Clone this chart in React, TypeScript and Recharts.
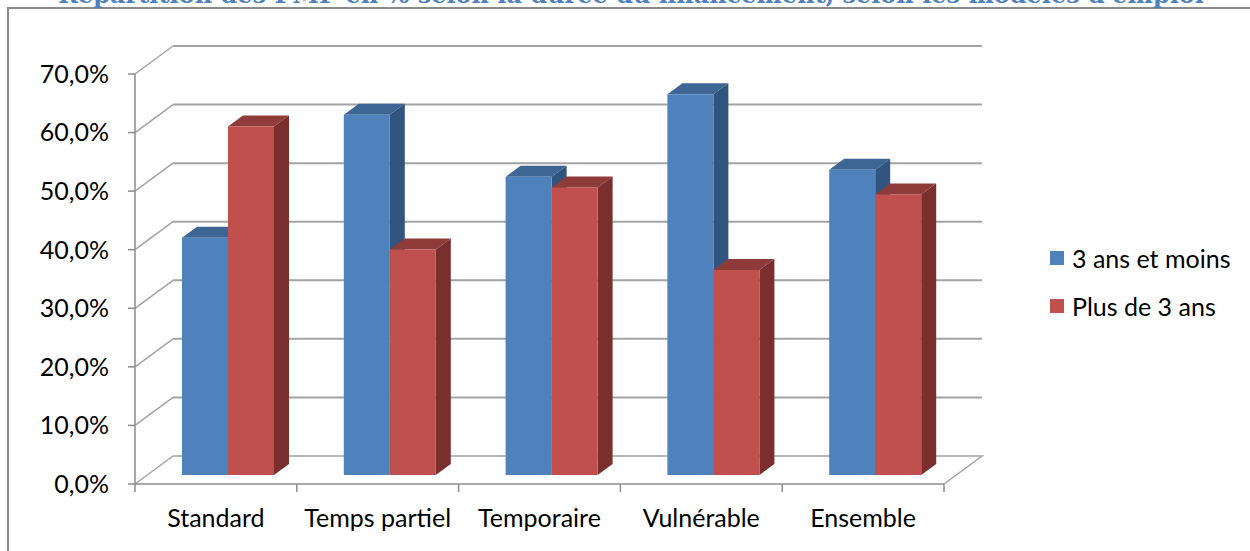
import { BarChart, Bar, XAxis, YAxis, CartesianGrid, Legend } from 'recharts';

const categories = ['Standard', 'Temps partiel', 'Temporaire', 'Vulnérable', 'Ensemble'];
const troisAnsEtMoins = [40.5, 61.5, 50.9, 65.0, 52.1];
const plusDeTroisAns = [59.5, 38.5, 49.1, 35.0, 47.9];
const seriesNames = ['3 ans et moins', 'Plus de 3 ans'];
const yTicks = [0, 10, 20, 30, 40, 50, 60, 70];

const TITLE = "Répartition des PMP en % selon la durée du financement, selon les modèles d'emploi";

const data = categories.map((name, i) => ({
  name,
  court: troisAnsEtMoins[i],
  long: plusDeTroisAns[i],
}));

// layout
const W = 1250;
const H = 551;
const MARGIN = { top: 74, right: 306, bottom: 27, left: 35 };
const Y_AXIS_W = 100;
const X_AXIS_H = 40;
const PLOT_BOTTOM = H - MARGIN.bottom - X_AXIS_H;
const X_TEXT_GAP = 43;

// fake 3D: back wall offset, bar plane offset, bar depth
const WALL_DX = 38;
const WALL_DY = 28;
const BAR_SHIFT_X = 12;
const BAR_SHIFT_Y = 9;
const BAR_DX = 15;
const BAR_DY = 11;

const FONT = 'Lato, "Open Sans", sans-serif';
const FONT_SIZE = 25;
const GRID = '#a3a3a3';
const AXIS = '#8c8c8c';

const fmtPct = (v: number) => `${v.toFixed(1).replace('.', ',')}%`;

const renderGridLine = (props: any) => {
  const { x1, y1, x2, index } = props;
  const isFloor = Math.abs(y1 - PLOT_BOTTOM) < 1;
  const bx = x1 + WALL_DX;
  const by = y1 - WALL_DY;
  return (
    <g key={`grid-${index}`}>
      <path d={`M${x1},${y1}L${bx},${by}`} stroke={GRID} strokeWidth={1.5} fill="none" />
      <path
        d={`M${bx},${by}H${x2 + WALL_DX}${isFloor ? `L${x2},${y1}` : ''}`}
        stroke={GRID}
        strokeWidth={isFloor ? 1.5 : 2}
        fill="none"
      />
    </g>
  );
};

const make3DBar = (front: string, top: string, side: string) => (props: any) => {
  const { x, y, width, height } = props;
  if (!width || height == null) return <g />;
  const fx = x + BAR_SHIFT_X;
  const fy = y - BAR_SHIFT_Y;
  const r = fx + width;
  const b = fy + height;
  return (
    <g>
      <polygon
        points={`${fx},${fy} ${r},${fy} ${r + BAR_DX},${fy - BAR_DY} ${fx + BAR_DX},${fy - BAR_DY}`}
        fill={top}
      />
      <polygon
        points={`${r},${fy} ${r + BAR_DX},${fy - BAR_DY} ${r + BAR_DX},${b - BAR_DY} ${r},${b}`}
        fill={side}
      />
      <rect x={fx} y={fy} width={width} height={height} fill={front} />
    </g>
  );
};

const XTick = (props: any) => {
  const { x, y, payload } = props;
  const axisY = y - X_TEXT_GAP;
  const half = payload.offset || 0;
  const last = payload.index === categories.length - 1;
  return (
    <g>
      <line x1={x - half} y1={axisY} x2={x - half} y2={axisY + 8} stroke={AXIS} strokeWidth={1.5} />
      {last && (
        <line x1={x + half} y1={axisY} x2={x + half} y2={axisY + 8} stroke={AXIS} strokeWidth={1.5} />
      )}
      <text x={x} y={y} textAnchor="middle" fill="#000" fontFamily={FONT} fontSize={FONT_SIZE}>
        {payload.value}
      </text>
    </g>
  );
};

const renderLegend = (props: any) => (
  <div style={{ fontFamily: FONT, fontSize: FONT_SIZE, color: '#000' }}>
    {(props.payload || []).map((entry: any, i: number) => (
      <div key={i} style={{ display: 'flex', alignItems: 'center', height: 48 }}>
        <span style={{ width: 14, height: 14, background: entry.color, marginRight: 8, display: 'inline-block' }} />
        <span>{entry.value}</span>
      </div>
    ))}
  </div>
);

export default function App() {
  return (
    <div
      style={{
        position: 'absolute',
        left: 0,
        top: 0,
        width: W,
        height: H,
        overflow: 'hidden',
        background: '#fff',
      }}
    >
      <div
        style={{
          position: 'absolute',
          left: 7,
          top: 7,
          width: W + 50,
          height: H + 50,
          border: '2px solid #8a8a8a',
        }}
      />
      <svg width={W} height={20} style={{ position: 'absolute', left: 0, top: 0 }}>
        <text
          x={631}
          y={3}
          textAnchor="middle"
          fill="#4F81BD"
          fontFamily='"DejaVu Serif", serif'
          fontWeight="bold"
          fontSize={24}
        >
          {TITLE}
        </text>
      </svg>
      <div style={{ position: 'absolute', left: 0, top: 0 }}>
        <BarChart width={W} height={H} data={data} margin={MARGIN} barCategoryGap={35} barGap={0}>
          <CartesianGrid horizontal={renderGridLine} vertical={false} />
          <XAxis
            dataKey="name"
            height={X_AXIS_H}
            axisLine={{ stroke: AXIS, strokeWidth: 1.5 }}
            tickLine={false}
            tickSize={0}
            tickMargin={X_TEXT_GAP}
            interval={0}
            tick={<XTick />}
          />
          <YAxis
            width={Y_AXIS_W}
            domain={[0, 70]}
            ticks={yTicks}
            tickFormatter={fmtPct}
            axisLine={{ stroke: AXIS, strokeWidth: 1.5 }}
            tickLine={{ stroke: AXIS, strokeWidth: 1.5 }}
            tickSize={7}
            tickMargin={19}
            tick={{ fill: '#000', fontFamily: FONT, fontSize: FONT_SIZE }}
          />
          <Legend
            layout="vertical"
            align="center"
            verticalAlign="middle"
            wrapperStyle={{ left: 1050, top: 234, width: 200 }}
            content={renderLegend}
          />
          <Bar
            dataKey="court"
            name={seriesNames[0]}
            fill="#4F81BD"
            shape={make3DBar('#4F81BD', '#3D6694', '#32557F')}
            isAnimationActive={false}
          />
          <Bar
            dataKey="long"
            name={seriesNames[1]}
            fill="#C0504D"
            shape={make3DBar('#C0504D', '#8F3B39', '#7A2F2E')}
            isAnimationActive={false}
          />
        </BarChart>
      </div>
    </div>
  );
}
